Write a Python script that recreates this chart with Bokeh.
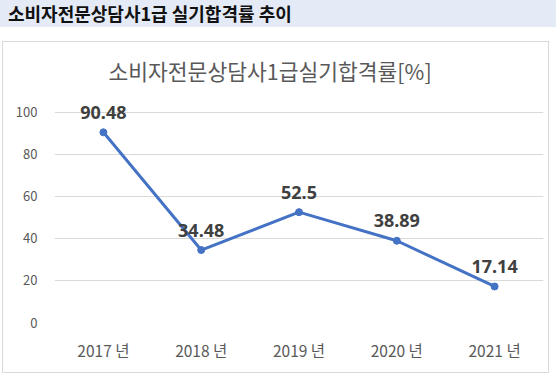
from bokeh.plotting import figure
from bokeh.models import ColumnDataSource, LabelSet, Range1d, FactorRange, Div, FixedTicker
from bokeh.layouts import column
from bokeh.embed import file_html
from bokeh.resources import INLINE

# ---- data ----
years = ["2017 년", "2018 년", "2019 년", "2020 년", "2021 년"]
rates = [90.48, 34.48, 52.5, 38.89, 17.14]
rate_labels = ["90.48", "34.48", "52.5", "38.89", "17.14"]
y_ticks = [0, 20, 40, 60, 80, 100]
header_text = "소비자전문상담사1급 실기합격률 추이"
chart_title = "소비자전문상담사1급실기합격률[%]"

KR = "Noto Sans CJK KR"

header = Div(
    text=header_text,
    width=556, height=27,
    margin=(0, 0, 0, 0),
    styles={
        "background-color": "#E4EAF6",
        "font-family": KR,
        "font-weight": "bold",
        "font-size": "18px",
        "color": "#111111",
        "line-height": "27px",
        "text-indent": "8px",
        "white-space": "nowrap",
        "overflow": "hidden",
    },
)

src = ColumnDataSource(dict(x=years, y=rates, lab=rate_labels))

p = figure(
    x_range=FactorRange(factors=years),
    y_range=Range1d(0, 108),
    width=547, height=332,
    margin=(0, 0, 0, 2),
    output_backend="svg",
    toolbar_location=None,
    min_border_left=51, min_border_right=7,
    min_border_top=52, min_border_bottom=52,
    title=chart_title,
    styles={"border": "1px solid #D9D9D9"},
)
p.title.align = "left"
p.title.offset = 54
p.title.text_font = KR
p.title.text_font_size = "21.5px"
p.title.text_font_style = "normal"
p.title.text_color = "#595959"
p.title.standoff = 20

p.line("x", "y", source=src, line_color="#4472C4", line_width=3)
p.scatter("x", "y", source=src, size=7, fill_color="#4472C4", line_color="#4472C4")

labels = LabelSet(x="x", y="y", text="lab", source=src, y_offset=20,
                  text_align="center", text_baseline="middle",
                  text_font=dict(value="Noto Sans"), text_font_style="bold",
                  text_font_size="18px", text_color="#404040")
p.add_layout(labels)

p.outline_line_color = None
p.xgrid.grid_line_color = None
p.ygrid.grid_line_color = "#D9D9D9"
p.ygrid.grid_line_width = 1

p.yaxis.ticker = FixedTicker(ticks=y_ticks)
for ax in (p.xaxis, p.yaxis):
    ax.axis_line_color = None
    ax.major_tick_line_color = None
    ax.minor_tick_line_color = None
    ax.major_label_text_color = "#595959"
    ax.major_label_text_font = KR
p.yaxis.major_label_text_font_size = "13px"
p.yaxis.major_label_standoff = 11
p.xaxis.major_label_text_font_size = "15.5px"
p.xaxis.major_label_standoff = 10

layout = column(header, p, spacing=14)

open("out.html", "w").write(file_html(layout, INLINE))
